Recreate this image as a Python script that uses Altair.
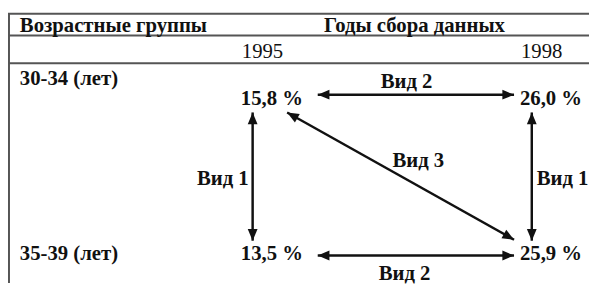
import math
import altair as alt
import pandas as pd

# ---- data -------------------------------------------------------------
years = ["1995", "1998"]
age_groups = ["30-34 (лет)", "35-39 (лет)"]
share_1995 = [15.8, 13.5]
share_1998 = [26.0, 25.9]
header_left = "Возрастные группы"
header_right = "Годы сбора данных"

link_kind = ["Вид 1", "Вид 1", "Вид 2", "Вид 2", "Вид 3"]
link_from_year = ["1995", "1998", "1995", "1995", "1995"]
link_to_year = ["1995", "1998", "1998", "1998", "1998"]
link_from_group = [age_groups[0], age_groups[0], age_groups[0], age_groups[1], age_groups[0]]
link_to_group = [age_groups[1], age_groups[1], age_groups[0], age_groups[1], age_groups[1]]


def fmt(v):
    return f"{v:.1f}".replace(".", ",") + " %"


cells = pd.DataFrame({
    "year": [years[0]] * len(age_groups) + [years[1]] * len(age_groups),
    "group": age_groups + age_groups,
    "value": share_1995 + share_1998,
})
cells["label"] = cells["value"].map(fmt)

links = pd.DataFrame({
    "kind": link_kind,
    "from_year": link_from_year,
    "to_year": link_to_year,
    "from_group": link_from_group,
    "to_group": link_to_group,
})

# ---- layout -----------------------------------------------------------
W, H = 589, 277
FONT = "Liberation Serif"
FS = 21
INK = "#111111"
LINE = "#555555"
HEAD = "M0,0L-0.42,1L0.42,1Z"
HEAD_SIZE = 560

XS = alt.Scale(type="point", domain=years, range=[236, 519], padding=0)
YS = alt.Scale(type="point", domain=age_groups, range=[96, 254], padding=0)


def X(f):
    return alt.X(f"{f}:N", scale=XS, axis=None)


def Y(f):
    return alt.Y(f"{f}:N", scale=YS, axis=None)


one = pd.DataFrame({"k": [0]})
layers = []

# table lines
for yy in [4, 26, 54]:
    layers.append(alt.Chart(one).mark_rule(color=LINE, strokeWidth=2).encode(
        x=alt.value(0), x2=alt.value(W), y=alt.value(yy)))
layers.append(alt.Chart(one).mark_rule(color=LINE, strokeWidth=2).encode(
    x=alt.value(1), y=alt.value(4), y2=alt.value(H)))

txt = dict(font=FONT, fontSize=FS, fontWeight="bold", color=INK, baseline="alphabetic")

# headers
layers.append(alt.Chart(pd.DataFrame({"t": [header_left]})).mark_text(align="left", **txt).encode(
    x=alt.value(12), y=alt.value(22), text="t:N"))
layers.append(alt.Chart(pd.DataFrame({"t": [header_right]})).mark_text(align="center", **txt).encode(
    x=alt.value(412), y=alt.value(22), text="t:N"))

# year labels
ytxt = dict(txt)
ytxt["fontWeight"] = "normal"
layers.append(alt.Chart(pd.DataFrame({"year": years})).mark_text(align="right", dx=43, **ytxt).encode(
    x=X("year"), y=alt.value(49), text="year:N"))

# row labels
rows = pd.DataFrame({"group": age_groups})
layers.append(alt.Chart(rows).transform_filter(alt.datum.group == age_groups[0]).mark_text(
    align="left", dy=-20, **txt).encode(x=alt.value(12), y=Y("group"), text="group:N"))
layers.append(alt.Chart(rows).transform_filter(alt.datum.group == age_groups[1]).mark_text(
    align="left", **txt).encode(x=alt.value(12), y=Y("group"), text="group:N"))

# values
layers.append(alt.Chart(cells).mark_text(align="left", **txt).encode(
    x=X("year"), y=Y("group"), text="label:N"))


# arrows
def arrow(cond, fx, fy, tx, ty, ang):
    d = alt.Chart(links).transform_filter(cond)
    rule = d.mark_rule(color=INK, strokeWidth=2.5, xOffset=fx, yOffset=fy,
                       x2Offset=tx, y2Offset=ty).encode(
        x=X("from_year"), y=Y("from_group"),
        x2=alt.X2("to_year:N"), y2=alt.Y2("to_group:N"))
    head_to = d.mark_point(shape=HEAD, size=HEAD_SIZE, filled=True, opacity=1, color=INK,
                           strokeWidth=0, angle=ang % 360, xOffset=tx, yOffset=ty).encode(
        x=X("to_year"), y=Y("to_group"))
    head_from = d.mark_point(shape=HEAD, size=HEAD_SIZE, filled=True, opacity=1, color=INK,
                             strokeWidth=0, angle=(ang + 180) % 360, xOffset=fx, yOffset=fy).encode(
        x=X("from_year"), y=Y("from_group"))
    return [rule, head_to, head_from]


layers += arrow(alt.datum.kind == "Вид 1", 12, 8, 12, -20, 180)
layers += arrow((alt.datum.kind == "Вид 2") & (alt.datum.from_group == age_groups[0]),
                78, -10, -6, -10, 90)
layers += arrow((alt.datum.kind == "Вид 2") & (alt.datum.from_group == age_groups[1]),
                78, -5, -6, -5, 90)
dx_d = (519 - 6) - (236 + 47)
dy_d = (254 - 21) - (96 + 8)
ang_d = math.degrees(math.atan2(dx_d, -dy_d))
layers += arrow(alt.datum.kind == "Вид 3", 47, 8, -6, -21, ang_d)

# link labels
lk = alt.Chart(links)
layers.append(lk.transform_filter((alt.datum.kind == "Вид 2") & (alt.datum.from_group == age_groups[0]))
              .mark_text(align="center", dx=168, dy=-17, **txt)
              .encode(x=X("from_year"), y=Y("from_group"), text="kind:N"))
layers.append(lk.transform_filter((alt.datum.kind == "Вид 2") & (alt.datum.from_group == age_groups[1]))
              .mark_text(align="center", dx=166, dy=20, **txt)
              .encode(x=X("from_year"), y=Y("from_group"), text="kind:N"))
layers.append(lk.transform_filter((alt.datum.kind == "Вид 1") & (alt.datum.from_year == years[0]))
              .mark_text(align="right", dx=8, dy=82, **txt)
              .encode(x=X("from_year"), y=Y("from_group"), text="kind:N"))
layers.append(lk.transform_filter((alt.datum.kind == "Вид 1") & (alt.datum.from_year == years[1]))
              .mark_text(align="left", dx=17, dy=82, **txt)
              .encode(x=X("from_year"), y=Y("from_group"), text="kind:N"))
layers.append(lk.transform_filter(alt.datum.kind == "Вид 3")
              .mark_text(align="center", dx=180, dy=63, **txt)
              .encode(x=X("from_year"), y=Y("from_group"), text="kind:N"))

chart = alt.layer(*layers).properties(
    width=W, height=H, padding=0,
    autosize=alt.AutoSizeParams(type="none"),
    background="white",
).configure(font=FONT).configure_text(font=FONT).configure_view(stroke=None)

chart.save("out.html", embed_options={"renderer": "svg", "actions": False})
